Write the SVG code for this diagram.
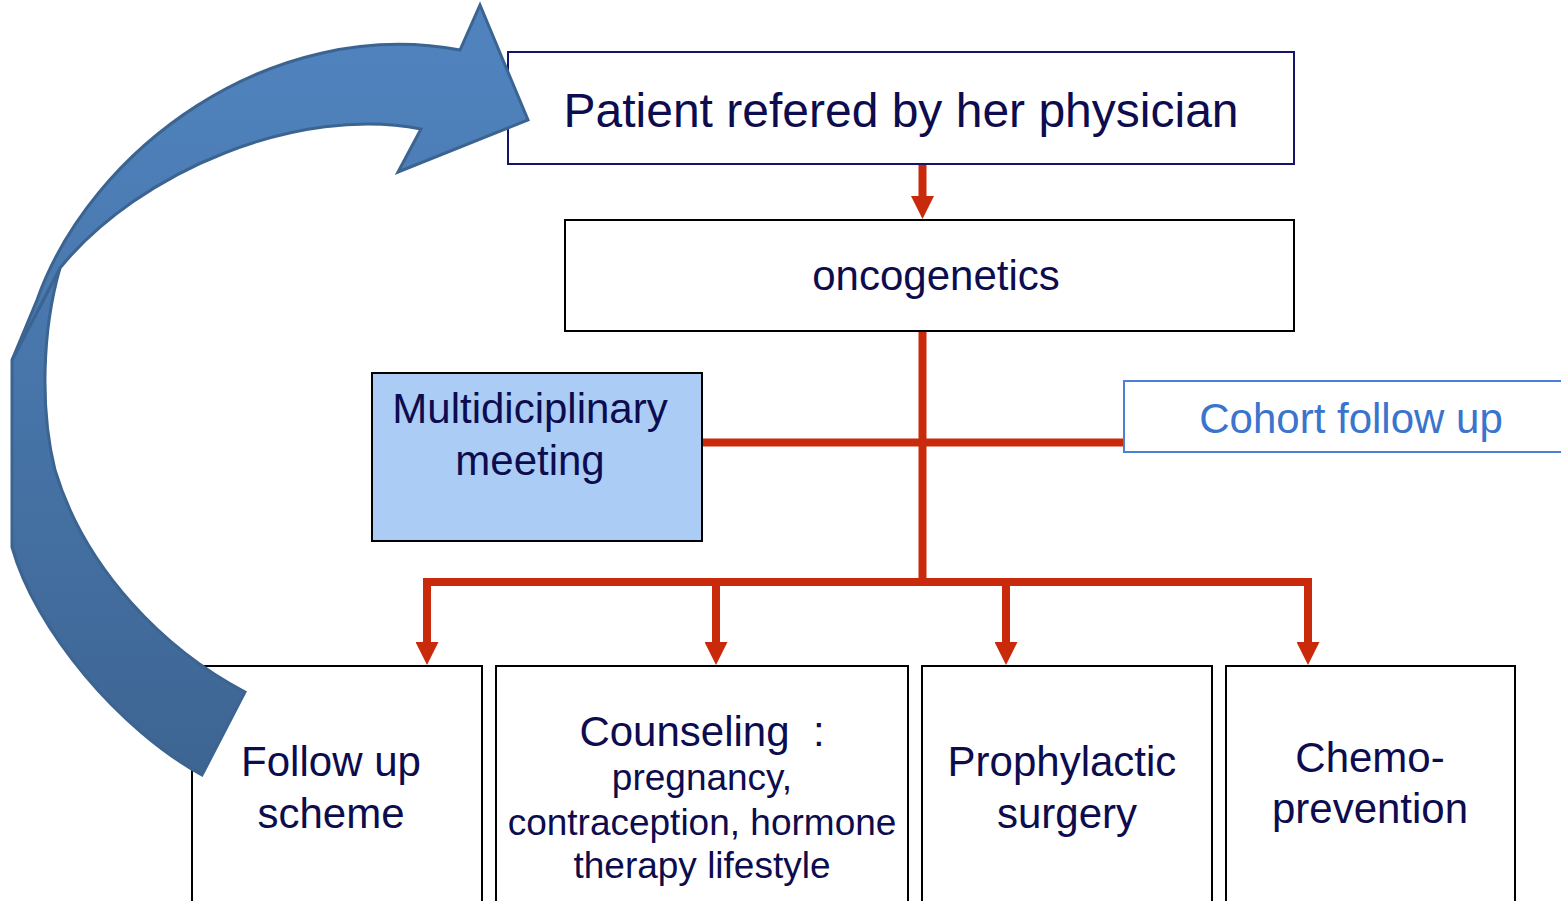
<svg xmlns="http://www.w3.org/2000/svg" width="1561" height="901" viewBox="0 0 1561 901">
<style>
.box{fill:#ffffff;stroke:#000000;stroke-width:2}
.t{font-family:"Liberation Sans",Arial,sans-serif;fill:#0c0c4e;text-anchor:middle}
.red{stroke:#c92a0b;fill:none;stroke-width:8}
</style>
<defs>
<linearGradient id="bg" gradientUnits="userSpaceOnUse" x1="0" y1="40" x2="0" y2="775">
<stop offset="0" stop-color="#5083be"/>
<stop offset="1" stop-color="#3d6592"/>
</linearGradient>
<marker id="ah" markerUnits="userSpaceOnUse" markerWidth="23" markerHeight="23" viewBox="0 0 23 23" refX="0" refY="11.5" orient="auto">
<path d="M0,0 L23,11.5 L0,23 Z" fill="#c92a0b"/>
</marker>
</defs>
<rect width="1561" height="901" fill="#ffffff"/>

<g id="connectors">
<line class="red" x1="922.5" y1="164" x2="922.5" y2="196" marker-end="url(#ah)"/>
<line class="red" x1="922.5" y1="331" x2="922.5" y2="582"/>
<line class="red" x1="703" y1="442.5" x2="1128" y2="442.5"/>
<line class="red" x1="423" y1="582" x2="1312" y2="582"/>
<line class="red" x1="427" y1="582" x2="427" y2="642" marker-end="url(#ah)"/>
<line class="red" x1="716" y1="582" x2="716" y2="642" marker-end="url(#ah)"/>
<line class="red" x1="1006" y1="582" x2="1006" y2="642" marker-end="url(#ah)"/>
<line class="red" x1="1308" y1="582" x2="1308" y2="642" marker-end="url(#ah)"/>
</g>

<g id="patient">
<rect x="508" y="52" width="786" height="112" fill="#ffffff" stroke="#14146a" stroke-width="2"/>
<text class="t" x="901" y="127" font-size="48">Patient refered by her physician</text>
</g>

<g id="oncogenetics">
<rect class="box" x="565" y="220" width="729" height="111"/>
<text class="t" x="936" y="290" font-size="42">oncogenetics</text>
</g>

<g id="multidisciplinary">
<rect x="372" y="373" width="330" height="168" fill="#abcdf5" stroke="#000000" stroke-width="2"/>
<text class="t" x="530" y="423" font-size="42">Multidiciplinary</text>
<text class="t" x="530" y="475" font-size="42">meeting</text>
</g>

<g id="cohort">
<rect x="1124" y="381" width="460" height="71" fill="#ffffff" stroke="#4a80d6" stroke-width="2"/>
<text class="t" x="1351" y="433" font-size="42" style="fill:#3a74cc">Cohort follow up</text>
</g>

<g id="follow-up">
<rect class="box" x="192" y="666" width="290" height="260"/>
<text class="t" x="331" y="776" font-size="42">Follow up</text>
<text class="t" x="331" y="828" font-size="42">scheme</text>
</g>

<g id="counseling">
<rect class="box" x="496" y="666" width="412" height="260"/>
<text class="t" x="702" y="746" font-size="42" xml:space="preserve">Counseling  :</text>
<text class="t" x="702" y="790" font-size="37">pregnancy,</text>
<text class="t" x="702" y="835" font-size="37">contraception, hormone</text>
<text class="t" x="702" y="878" font-size="37">therapy lifestyle</text>
</g>

<g id="prophylactic">
<rect class="box" x="922" y="666" width="290" height="260"/>
<text class="t" x="1062" y="776" font-size="42">Prophylactic</text>
<text class="t" x="1067" y="828" font-size="42">surgery</text>
</g>

<g id="chemo">
<rect class="box" x="1226" y="666" width="289" height="260"/>
<text class="t" x="1370" y="772" font-size="42">Chemo-</text>
<text class="t" x="1370" y="823" font-size="42">prevention</text>
</g>

<g id="loop-arrow" stroke="#3b6491" stroke-width="3" stroke-linejoin="miter" fill="url(#bg)">
<path d="M245,692 C165,650 85,570 55,470 C40,410 42,330 60,268 L12,360 L12,547 C35,630 120,730 202,775 Z"/>
<path d="M12,360 L37,300 C90,150 270,15 460,50 L480,5 L528,120 L398,172 L421,129 C300,105 140,170 60,268 Z"/>
</g>
</svg>
